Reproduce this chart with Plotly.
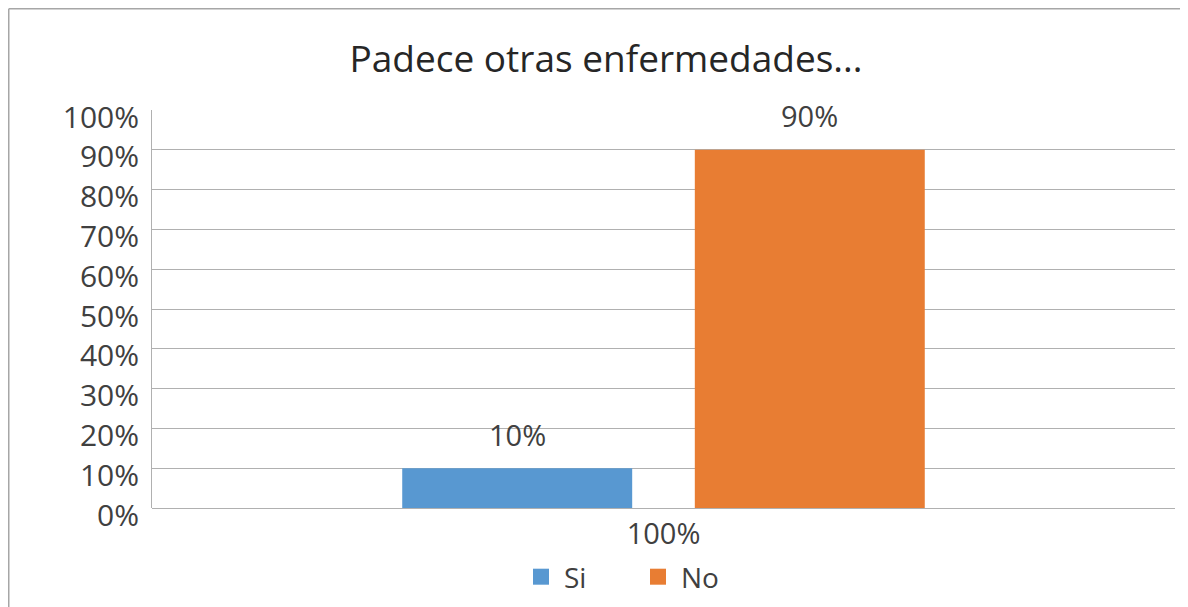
import plotly.graph_objects as go

categories = ["100%"]
series_names = ["Si", "No"]
series_values = [[0.10], [0.90]]
series_colors = ["#5898D1", "#E87D33"]
tick_vals = [i / 10 for i in range(11)]
tick_labels = [f"{i * 10}%" for i in range(11)]
title_text = "Padece otras enfermedades..."

# page has an 8px body margin, so the figure itself is drawn 8px in
W, H = 1180, 599
ML, MR, MT, MB = 144, 13, 102, 99
PW, PH = W - ML - MR, H - MT - MB
BARGAP = 0.428
BARGROUPGAP = 0.214
FONT = "Open Sans"
GRID = "#B0B0B0"

fig = go.Figure()
for name, vals, col in zip(series_names, series_values, series_colors):
    fig.add_trace(go.Bar(name=name, x=categories, y=vals, marker_color=col,
                         marker_line_width=0, showlegend=False))
for name, col in zip(series_names, series_colors):
    fig.add_trace(go.Scatter(name=name, x=[None], y=[None], mode="markers",
                             marker=dict(symbol="square", size=16, color=col)))

slot_px = PW * (1 - BARGAP) / len(series_names)
annotations = []
for i, vals in enumerate(series_values):
    shift = (i - (len(series_names) - 1) / 2) * slot_px
    for c, v in zip(categories, vals):
        annotations.append(dict(x=c, y=v, xref="x", yref="y", text=f"{v:.0%}",
                                showarrow=False, xshift=shift, yshift=34,
                                font=dict(family=FONT, size=29, color="#404040")))

# chart frame (left and top edges of the figure)
fx0 = (-ML + 0.75) / PW
fy1 = 1 + (MT - 0.75) / PH
fy0 = -(MB + 5) / PH
fx1 = 1 + (MR + 5) / PW
shapes = [
    dict(type="line", xref="paper", yref="paper", x0=fx0, x1=fx1, y0=fy1, y1=fy1,
         line=dict(color="#A6A6A6", width=1.5)),
    dict(type="line", xref="paper", yref="paper", x0=fx0, x1=fx0, y0=fy0, y1=fy1,
         line=dict(color="#A6A6A6", width=1.5)),
]

fig.update_layout(
    width=W, height=H,
    margin=dict(l=ML, r=MR, t=MT, b=MB, autoexpand=False),
    paper_bgcolor="white", plot_bgcolor="white",
    barmode="group", bargap=BARGAP, bargroupgap=BARGROUPGAP,
    title=dict(text=title_text, x=598 / W, xanchor="center", y=1 - 51 / H, yanchor="middle",
               font=dict(family=FONT, size=37, color="#262626")),
    xaxis=dict(type="category", showgrid=False, showline=False, ticks="", automargin=False,
               tickfont=dict(family=FONT, size=29, color="#404040"), ticklabelstandoff=6),
    yaxis=dict(range=[0, 1], tickvals=tick_vals, ticktext=tick_labels, automargin=False,
               showgrid=True, gridcolor=GRID, gridwidth=1,
               showline=True, linecolor=GRID, linewidth=1,
               zeroline=True, zerolinecolor=GRID, zerolinewidth=1,
               ticks="", ticklabelstandoff=6, ticklabelshift=7,
               tickfont=dict(family=FONT, size=30, color="#404040")),
    showlegend=True,
    legend=dict(orientation="h", x=627 / W, xanchor="center", xref="container",
                y=1 - 569 / H, yanchor="middle", yref="container",
                itemwidth=36, entrywidth=66, entrywidthmode="pixels",
                font=dict(family=FONT, size=28, color="#404040")),
    annotations=annotations,
    shapes=shapes,
)

fig.write_html("out.html")
